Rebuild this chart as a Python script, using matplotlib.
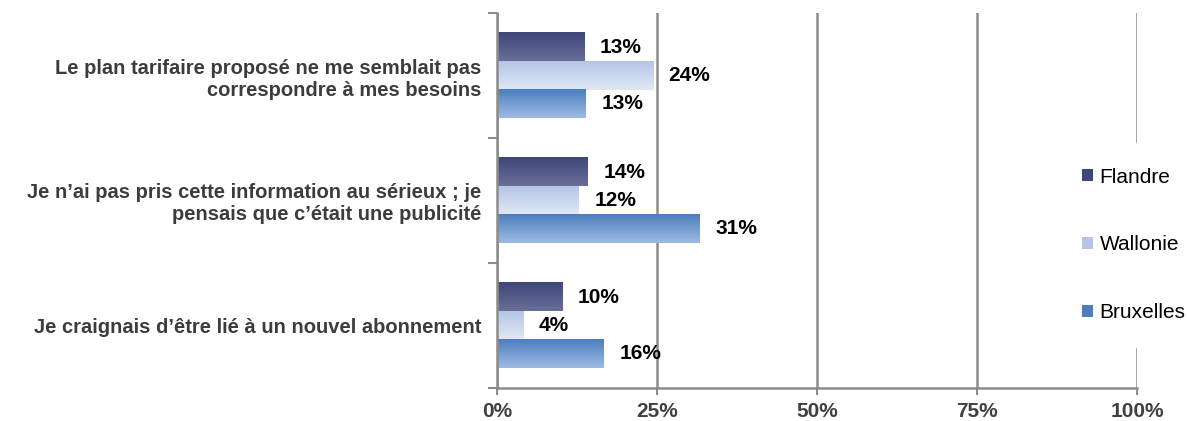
import numpy as np
import matplotlib.pyplot as plt
from matplotlib.colors import LinearSegmentedColormap
from matplotlib.patches import Patch

plt.rcParams['font.family'] = ['Liberation Sans', 'DejaVu Sans']

# Data
categories = ['Le plan tarifaire proposé ne me semblait pas\ncorrespondre à mes besoins',
              'Je n\u2019ai pas pris cette information au sérieux ; je\npensais que c\u2019était une publicité',
              'Je craignais d\u2019être lié à un nouvel abonnement']
regions = ['Flandre', 'Wallonie', 'Bruxelles']
flandre = [13.6, 14.2, 10.2]
wallonie = [24.4, 12.8, 4.1]
bruxelles = [13.9, 31.7, 16.7]
flandre_labels = ['13%', '14%', '10%']
wallonie_labels = ['24%', '12%', '4%']
bruxelles_labels = ['13%', '31%', '16%']
xticks = [0, 25, 50, 75, 100]

# gradient colours (top, bottom)
grads = [('#3e4778', '#6a6e98'), ('#b4c6e6', '#e0e8f5'), ('#4d7ebf', '#9dbbe2')]

fig = plt.figure(figsize=(11.87, 4.21), dpi=100)
ax = fig.add_axes([497/1187, 1-388/421, 640/1187, 375/421])

ypos = np.arange(len(categories))  # 0 top
h = 0.225
series = [flandre, wallonie, bruxelles]
labels = [flandre_labels, wallonie_labels, bruxelles_labels]
offsets = [-h, 0, h]

for s, vals, labs, off, (c1, c2), name in zip(range(3), series, labels, offsets, grads, regions):
    bars = ax.barh(ypos + off, vals, height=h, color=c1, label=name, zorder=2)
    cmap = LinearSegmentedColormap.from_list('g%d' % s, [c1, c2])
    for b, lab in zip(bars, labs):
        x0, y0 = b.get_x(), b.get_y()
        w, hh = b.get_width(), b.get_height()
        b.set_facecolor('none')
        b.set_edgecolor('none')
        ax.imshow(np.linspace(0, 1, 50).reshape(-1, 1), cmap=cmap, aspect='auto',
                  extent=(x0, x0 + w, y0 + hh, y0), zorder=2, interpolation='bicubic')
        ax.text(x0 + w + 2.4, y0 + hh / 2, lab, va='center', ha='left',
                fontsize=15, fontweight='bold', color='black', zorder=3)

ax.set_xlim(0, 100)
ax.set_ylim(2.5, -0.5)
ax.set_xticks(xticks)
ax.set_xticklabels(['%d%%' % t for t in xticks], fontsize=15, fontweight='bold', color='#404040')
ax.set_yticks(ypos)
ax.set_yticklabels(categories, fontsize=14.5, fontweight='bold', color='#3c3c3c', linespacing=1.2)
ax.set_yticks([-0.5, 0.5, 1.5, 2.5], minor=True)
ax.tick_params(axis='y', which='major', length=0, pad=11.5)
ax.tick_params(axis='y', which='minor', length=6.5, width=1.5, color='#8c8c8c')
ax.tick_params(axis='x', length=5, width=1.5, color='#8c8c8c', pad=5)

ax.grid(axis='x', color='#8c8c8c', linewidth=1.8, zorder=0)
ax.set_axisbelow(True)
for sp in ['top', 'right']:
    ax.spines[sp].set_visible(False)
for sp in ['left', 'bottom']:
    ax.spines[sp].set_color('#8c8c8c')
    ax.spines[sp].set_linewidth(1.8)

# legend with proxy handles
handles = [Patch(facecolor=g[0], edgecolor='none') for g in grads]
leg = fig.legend(handles, regions, loc='center left', bbox_to_anchor=(1057/1187, 1-245/421),
                 frameon=True, facecolor='white', edgecolor='white', framealpha=1,
                 fontsize=15, labelspacing=2.35, handlelength=0.55, handleheight=0.55,
                 handletextpad=0.3, borderpad=1.2, borderaxespad=0)
leg.set_zorder(5)

# title partly cut off at the top of the picture
fig.text(12/1187, 1 + 4/421, '(Base : n\u2019ont pas accepté l\u2019offre)', fontsize=15,
         fontweight='bold', va='baseline', ha='left', color='black')

fig.savefig('out.png', dpi=100)
